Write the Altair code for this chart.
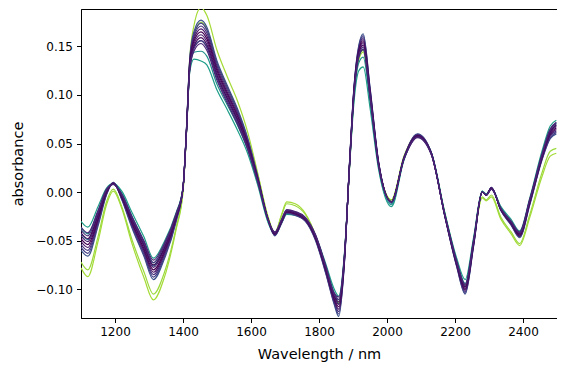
import altair as alt
import pandas as pd

wavelength = [1100, 1120, 1150, 1175, 1195, 1220, 1250, 1285, 1313, 1345,
              1380, 1400, 1410, 1420, 1432, 1453, 1470, 1500, 1530, 1560,
              1590, 1620, 1650, 1670, 1690, 1705, 1730, 1760, 1790, 1820,
              1845, 1858, 1875, 1890, 1903, 1917, 1930, 1950, 1975, 2013,
              2050, 2090, 2130, 2170, 2205, 2230, 2255, 2280, 2292, 2307,
              2335, 2365, 2390, 2420, 2455, 2480, 2498]

yellow_1 = [-0.078, -0.087, -0.051, -0.013, 0.001, -0.017, -0.053, -0.088, -0.111, -0.088,
            -0.038, 0.000, 0.060, 0.138, 0.171, 0.190, 0.182, 0.146, 0.119, 0.094,
            0.062, 0.019, -0.025, -0.042, -0.023, -0.010, -0.012, -0.022, -0.045, -0.080,
            -0.108, -0.114, -0.065, 0.027, 0.099, 0.136, 0.144, 0.097, 0.028, -0.008,
            0.037, 0.059, 0.040, -0.022, -0.071, -0.096, -0.049, -0.006, -0.009, -0.005,
            -0.028, -0.043, -0.055, -0.026, 0.015, 0.037, 0.040]
yellow_2 = [-0.072, -0.080, -0.046, -0.010, 0.003, -0.015, -0.049, -0.082, -0.105, -0.083,
            -0.036, 0.001, 0.060, 0.134, 0.161, 0.175, 0.168, 0.133, 0.108, 0.084,
            0.055, 0.018, -0.026, -0.042, -0.024, -0.012, -0.014, -0.023, -0.045, -0.080,
            -0.108, -0.115, -0.066, 0.028, 0.100, 0.138, 0.146, 0.098, 0.028, -0.008,
            0.037, 0.059, 0.040, -0.022, -0.072, -0.097, -0.050, -0.005, -0.008, -0.003,
            -0.026, -0.041, -0.053, -0.023, 0.019, 0.042, 0.045]
teal_1 = [-0.030, -0.036, -0.015, 0.004, 0.009, 0.001, -0.021, -0.046, -0.068, -0.051,
          -0.021, 0.005, 0.060, 0.124, 0.137, 0.135, 0.131, 0.105, 0.085, 0.064,
          0.040, 0.007, -0.031, -0.044, -0.032, -0.023, -0.024, -0.028, -0.045, -0.074,
          -0.100, -0.107, -0.062, 0.026, 0.093, 0.125, 0.129, 0.087, 0.024, -0.015,
          0.033, 0.058, 0.041, -0.021, -0.068, -0.090, -0.046, 0.001, -0.002, 0.004,
          -0.015, -0.028, -0.040, -0.006, 0.041, 0.068, 0.074]
teal_2 = [-0.037, -0.043, -0.020, 0.002, 0.009, -0.001, -0.025, -0.051, -0.073, -0.055,
          -0.023, 0.005, 0.061, 0.127, 0.144, 0.145, 0.140, 0.111, 0.090, 0.069,
          0.044, 0.009, -0.030, -0.044, -0.031, -0.022, -0.023, -0.028, -0.046, -0.076,
          -0.104, -0.111, -0.064, 0.028, 0.098, 0.133, 0.139, 0.093, 0.026, -0.013,
          0.034, 0.058, 0.041, -0.022, -0.070, -0.094, -0.048, 0.001, -0.002, 0.004,
          -0.016, -0.030, -0.042, -0.008, 0.039, 0.065, 0.071]
teal_3 = [-0.043, -0.049, -0.023, 0.001, 0.009, -0.003, -0.028, -0.054, -0.076, -0.058,
          -0.0245, 0.004, 0.0615, 0.1295, 0.1495, 0.156, 0.150, 0.119, 0.096, 0.074,
          0.047, 0.011, -0.029, -0.043, -0.0305, -0.021, -0.0225, -0.028, -0.0465, -0.078,
          -0.107, -0.115, -0.066, 0.029, 0.1015, 0.139, 0.147, 0.098, 0.028, -0.0115,
          0.0345, 0.058, 0.0405, -0.023, -0.072, -0.097, -0.050, 0.0005, -0.0025, 0.004,
          -0.017, -0.031, -0.043, -0.009, 0.037, 0.0625, 0.0685]
dark_1 = [-0.060, -0.066, -0.035, -0.003, 0.010, -0.008, -0.037, -0.066, -0.090, -0.069,
          -0.030, 0.004, 0.064, 0.138, 0.165, 0.177, 0.170, 0.135, 0.110, 0.086,
          0.056, 0.016, -0.028, -0.045, -0.032, -0.022, -0.024, -0.030, -0.050, -0.084,
          -0.116, -0.128, -0.072, 0.032, 0.109, 0.151, 0.163, 0.108, 0.032, -0.010,
          0.036, 0.060, 0.041, -0.025, -0.077, -0.105, -0.055, 0.000, -0.003, 0.005,
          -0.019, -0.034, -0.047, -0.013, 0.032, 0.055, 0.060]
dark_2 = [-0.057, -0.063, -0.033, -0.002, 0.010, -0.007, -0.0355, -0.064, -0.0875, -0.067,
          -0.029, 0.004, 0.0635, 0.1365, 0.1625, 0.174, 0.167, 0.1325, 0.108, 0.084,
          0.0545, 0.015, -0.028, -0.0445, -0.0315, -0.0215, -0.0235, -0.0295, -0.049, -0.083,
          -0.1145, -0.1255, -0.071, 0.0315, 0.108, 0.1495, 0.161, 0.107, 0.0315, -0.010,
          0.036, 0.0595, 0.041, -0.025, -0.076, -0.104, -0.054, 0.000, -0.003, 0.005,
          -0.019, -0.0335, -0.046, -0.012, 0.033, 0.056, 0.0615]
dark_3 = [-0.054, -0.060, -0.031, -0.0015, 0.0095, -0.0065, -0.034, -0.062, -0.085, -0.065,
          -0.028, 0.004, 0.063, 0.135, 0.160, 0.171, 0.164, 0.130, 0.1055, 0.082,
          0.053, 0.0145, -0.028, -0.044, -0.031, -0.021, -0.023, -0.029, -0.0485, -0.082,
          -0.113, -0.123, -0.070, 0.031, 0.107, 0.148, 0.159, 0.1055, 0.031, -0.010,
          0.0355, 0.059, 0.0405, -0.0245, -0.0755, -0.1025, -0.0535, 0.000, -0.003, 0.0045,
          -0.0185, -0.033, -0.0455, -0.0115, 0.0335, 0.0575, 0.063]
dark_4 = [-0.051, -0.057, -0.029, -0.001, 0.009, -0.006, -0.0325, -0.060, -0.0825, -0.063,
          -0.027, 0.004, 0.0625, 0.1335, 0.1575, 0.168, 0.161, 0.1275, 0.103, 0.080,
          0.0515, 0.014, -0.028, -0.0435, -0.0305, -0.0205, -0.0225, -0.0285, -0.048, -0.081,
          -0.1115, -0.1205, -0.069, 0.0305, 0.106, 0.1465, 0.157, 0.104, 0.0305, -0.010,
          0.035, 0.0585, 0.040, -0.024, -0.075, -0.101, -0.053, 0.000, -0.003, 0.004,
          -0.018, -0.0325, -0.045, -0.011, 0.034, 0.059, 0.0645]
dark_5 = [-0.048, -0.054, -0.027, 0.000, 0.009, -0.005, -0.031, -0.058, -0.080, -0.061,
          -0.026, 0.004, 0.062, 0.132, 0.155, 0.165, 0.158, 0.125, 0.101, 0.078,
          0.050, 0.013, -0.028, -0.043, -0.030, -0.020, -0.022, -0.028, -0.047, -0.080,
          -0.110, -0.118, -0.068, 0.030, 0.105, 0.145, 0.155, 0.103, 0.030, -0.010,
          0.035, 0.058, 0.040, -0.024, -0.074, -0.100, -0.052, 0.000, -0.003, 0.004,
          -0.018, -0.032, -0.044, -0.010, 0.035, 0.060, 0.066]
dark_6 = [-0.045, -0.051, -0.025, 0.001, 0.009, -0.004, -0.0295, -0.056, -0.0775, -0.059,
          -0.025, 0.004, 0.0615, 0.1305, 0.1525, 0.162, 0.155, 0.1225, 0.099, 0.076,
          0.0485, 0.012, -0.028, -0.0425, -0.0295, -0.0195, -0.0215, -0.0275, -0.046, -0.079,
          -0.1085, -0.1155, -0.067, 0.0295, 0.104, 0.1435, 0.153, 0.102, 0.0295, -0.010,
          0.035, 0.0575, 0.040, -0.024, -0.073, -0.099, -0.051, 0.000, -0.003, 0.004,
          -0.018, -0.0315, -0.043, -0.009, 0.036, 0.061, 0.0675]
dark_7 = [-0.042, -0.048, -0.023, 0.0015, 0.0085, -0.0035, -0.028, -0.054, -0.075, -0.057,
          -0.024, 0.004, 0.061, 0.129, 0.150, 0.159, 0.152, 0.120, 0.0965, 0.074,
          0.047, 0.0115, -0.028, -0.042, -0.029, -0.019, -0.021, -0.027, -0.0455, -0.078,
          -0.107, -0.113, -0.066, 0.029, 0.103, 0.142, 0.151, 0.1005, 0.029, -0.010,
          0.0345, 0.057, 0.0395, -0.0235, -0.0725, -0.0975, -0.0505, 0.000, -0.003, 0.0035,
          -0.0175, -0.031, -0.0425, -0.0085, 0.0365, 0.0625, 0.069]
dark_8 = [-0.039, -0.045, -0.021, 0.002, 0.008, -0.003, -0.0265, -0.052, -0.0725, -0.055,
          -0.023, 0.004, 0.0605, 0.1275, 0.1475, 0.156, 0.149, 0.1175, 0.094, 0.072,
          0.0455, 0.011, -0.028, -0.0415, -0.0285, -0.0185, -0.0205, -0.0265, -0.045, -0.077,
          -0.1055, -0.1105, -0.065, 0.0285, 0.102, 0.1405, 0.149, 0.099, 0.0285, -0.010,
          0.034, 0.0565, 0.039, -0.023, -0.072, -0.096, -0.050, 0.000, -0.003, 0.003,
          -0.017, -0.0305, -0.042, -0.008, 0.037, 0.064, 0.0705]
dark_9 = [-0.036, -0.042, -0.019, 0.003, 0.008, -0.002, -0.025, -0.050, -0.070, -0.053,
          -0.022, 0.004, 0.060, 0.126, 0.145, 0.153, 0.146, 0.115, 0.092, 0.070,
          0.044, 0.010, -0.028, -0.041, -0.028, -0.018, -0.020, -0.026, -0.044, -0.076,
          -0.104, -0.108, -0.064, 0.028, 0.101, 0.139, 0.147, 0.098, 0.028, -0.010,
          0.034, 0.056, 0.039, -0.023, -0.071, -0.095, -0.049, 0.000, -0.003, 0.003,
          -0.017, -0.030, -0.041, -0.007, 0.038, 0.065, 0.072]

sample_names = ["s01", "s02", "s03", "s04", "s05", "s06", "s07",
                "s08", "s09", "s10", "s11", "s12", "s13", "s14"]
sample_colors = ["#a5db36", "#9bd93c", "#1f9e89", "#21918c", "#2c728e",
                 "#3b528b", "#433e85", "#46307e", "#471365", "#440154",
                 "#481a6c", "#450559", "#472d7b", "#482374"]
sample_values = [yellow_1, yellow_2, teal_1, teal_2, teal_3,
                 dark_1, dark_2, dark_3, dark_4, dark_5,
                 dark_6, dark_7, dark_8, dark_9]

x_ticks = [1200, 1400, 1600, 1800, 2000, 2200, 2400]
y_ticks = [-0.10, -0.05, 0.00, 0.05, 0.10, 0.15]

rows = []
for name, color, vals in zip(sample_names, sample_colors, sample_values):
    for w, v in zip(wavelength, vals):
        rows.append({"wavelength": w, "absorbance": v, "sample": name, "color": color})
df = pd.DataFrame(rows)

chart = alt.Chart(df).mark_line(
    strokeWidth=1.2, interpolate="monotone", clip=True
).encode(
    x=alt.X("wavelength:Q",
            scale=alt.Scale(domain=[1100, 2500], nice=False, zero=False),
            axis=alt.Axis(values=x_ticks, format="d", title="Wavelength / nm")),
    y=alt.Y("absorbance:Q",
            scale=alt.Scale(domain=[-0.1296, 0.1885], nice=False, zero=False),
            axis=alt.Axis(values=y_ticks, format=".2f", title="absorbance")),
    color=alt.Color("color:N", scale=None),
    detail="sample:N",
).properties(
    width=476, height=309,
    autosize=alt.AutoSizeParams(type="none"),
    padding={"left": 73, "top": 1, "right": 0, "bottom": 46},
).configure_view(
    stroke="black", strokeWidth=1
).configure_axis(
    grid=False,
    domainColor="black", domainWidth=1,
    tickColor="black", tickWidth=1, tickSize=4.5,
    labelFont="DejaVu Sans", labelFontSize=12, labelColor="black", labelPadding=4,
    titleFont="DejaVu Sans", titleFontSize=14.5, titleFontWeight="normal",
    titleColor="black",
).configure_axisX(
    titlePadding=10
).configure_axisY(
    titlePadding=10
)

chart.save("out.html", embed_options={"renderer": "svg", "actions": False})
